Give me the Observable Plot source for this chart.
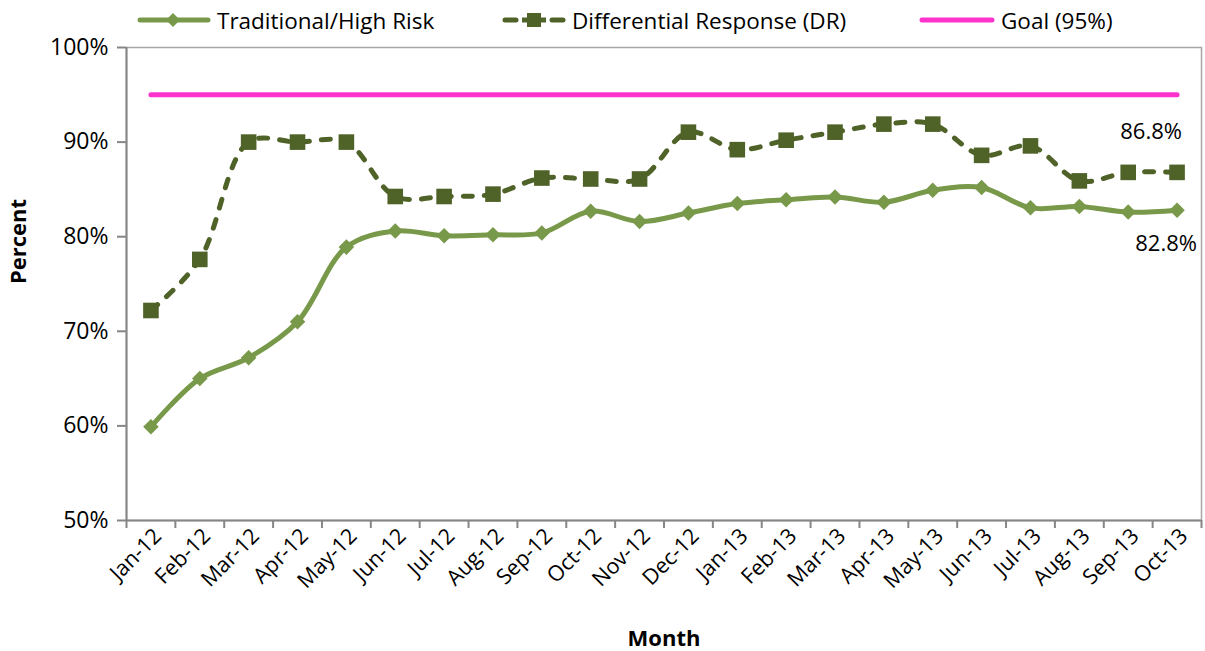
<!DOCTYPE html>
<html>
<head>
<meta charset="utf-8">
<script src="https://cdn.jsdelivr.net/npm/d3@7"></script>
<script src="https://cdn.jsdelivr.net/npm/@observablehq/plot@0.6"></script>
<style>
  html, body { margin: 0; padding: 0; background: #fff; }
  body { width: 1205px; height: 651px; overflow: hidden; font-family: "Open Sans", sans-serif; }
  #legend { position: relative; height: 26px; font-size: 22.5px; color: #000; z-index: 2; }
  #legend .item { position: absolute; top: 2px; height: 36px; display: flex; align-items: center; }
  #legend svg { display: block; }
  #legend span { margin-left: 5px; white-space: nowrap; }
</style>
</head>
<body>
<div id="legend"></div>
<div id="chart"></div>
<script>
const months = ["Jan-12","Feb-12","Mar-12","Apr-12","May-12","Jun-12","Jul-12","Aug-12","Sep-12","Oct-12","Nov-12","Dec-12",
                "Jan-13","Feb-13","Mar-13","Apr-13","May-13","Jun-13","Jul-13","Aug-13","Sep-13","Oct-13"];
const traditional = [59.9,65.0,67.2,71.0,78.9,80.6,80.1,80.2,80.4,82.7,81.6,82.5,83.5,83.9,84.2,83.65,84.9,85.2,83.05,83.2,82.6,82.8];
const dr = [72.2,77.6,90.0,90.0,90.0,84.25,84.25,84.5,86.2,86.1,86.1,91.05,89.2,90.2,91.05,91.9,91.9,88.6,89.6,85.9,86.8,86.8];
const goal = 95;
const yTicks = [50,60,70,80,90,100];
const seriesNames = ["Traditional/High Risk","Differential Response (DR)","Goal (95%)"];
const labelTrad = 82.8, labelDR = 86.8;

const cTrad = "#79994a", cDR = "#4f6228", cGoal = "#ff33cc";

const idx = months.map((_, i) => i);
const tradData = idx.map(i => ({i, v: traditional[i]}));
const drData = idx.map(i => ({i, v: dr[i]}));
const goalData = [{i: 0, v: goal}, {i: months.length - 1, v: goal}];
const boundaries = d3.range(-0.5, months.length, 1);

// Legend
const legend = document.getElementById("legend");
const legendItems = [
  {name: seriesNames[0], left: 136, svg: `<svg width="76" height="20"><line x1="4" y1="10" x2="72" y2="10" stroke="${cTrad}" stroke-width="5" stroke-linecap="round"/><path d="M37,3 L44,10 L37,17 L30,10Z" fill="${cTrad}"/></svg>`},
  {name: seriesNames[1], left: 501, svg: `<svg width="66" height="20"><line x1="4" y1="10" x2="15" y2="10" stroke="${cDR}" stroke-width="5" stroke-linecap="round"/><line x1="51" y1="10" x2="62" y2="10" stroke="${cDR}" stroke-width="5" stroke-linecap="round"/><line x1="21" y1="10" x2="45" y2="10" stroke="${cDR}" stroke-width="5"/><rect x="26" y="3" width="14" height="14" fill="${cDR}"/></svg>`},
  {name: seriesNames[2], left: 918, svg: `<svg width="78" height="20"><line x1="4" y1="10" x2="74" y2="10" stroke="${cGoal}" stroke-width="5" stroke-linecap="round"/></svg>`}
];
for (const it of legendItems) {
  const d = document.createElement("div");
  d.className = "item";
  d.style.left = it.left + "px";
  d.innerHTML = it.svg + `<span>${it.name}</span>`;
  legend.appendChild(d);
}

const chart = Plot.plot({
  width: 1205,
  height: 625,
  marginTop: 21,
  marginBottom: 131,
  marginLeft: 126,
  marginRight: 4,
  style: {fontFamily: "Open Sans, sans-serif", fontSize: "22px", color: "#000", background: "#fff", overflow: "visible"},
  x: {type: "linear", domain: [-0.5, months.length - 0.5]},
  y: {type: "linear", domain: [50, 100]},
  marks: [
    Plot.frame({stroke: "#a6a6a6", strokeWidth: 1.5}),
    // boundary ticks on x axis
    Plot.axisX({ticks: boundaries, tickFormat: () => "", tickSize: 8, stroke: "#868686", strokeWidth: 2, label: null}),
    // category labels
    Plot.axisX({ticks: idx, tickFormat: i => months[i], tickSize: 0, tickPadding: 12, tickRotate: -45, fontSize: 21.5, dx: 7, label: null}),
    Plot.axisY({ticks: yTicks, tickFormat: d => d + "%", tickSize: 9, tickPadding: 9, stroke: "#868686", strokeWidth: 2, fontSize: 23, label: null}),
    Plot.ruleX([-0.5], {stroke: "#868686", strokeWidth: 2}),
    Plot.ruleY([50], {stroke: "#868686", strokeWidth: 2}),
    // goal
    Plot.line(goalData, {x: "i", y: "v", stroke: cGoal, strokeWidth: 5, strokeLinecap: "round"}),
    // DR
    Plot.line(drData, {x: "i", y: "v", stroke: cDR, strokeWidth: 5, curve: "catmull-rom", strokeDasharray: "9,12", strokeLinecap: "round"}),
    Plot.dot(drData, {x: "i", y: "v", symbol: "square", r: 8.8, fill: cDR, stroke: "none"}),
    // Traditional
    Plot.line(tradData, {x: "i", y: "v", stroke: cTrad, strokeWidth: 5, curve: "catmull-rom", strokeLinecap: "round"}),
    Plot.dot(tradData, {x: "i", y: "v", symbol: "diamond2", r: 7, fill: cTrad, stroke: "none"}),
    // data labels
    Plot.text([{i: months.length - 1, v: labelDR}], {x: "i", y: "v", text: d => d.v.toFixed(1) + "%", dx: -26, dy: -40, fontSize: 22, fill: "#000"}),
    Plot.text([{i: months.length - 1, v: labelTrad}], {x: "i", y: "v", text: d => d.v.toFixed(1) + "%", dx: -11, dy: 34, fontSize: 22, fill: "#000"}),
    // axis titles
    Plot.text(["Percent"], {frameAnchor: "left", dx: -108, rotate: -90, fontWeight: "bold", fontSize: 22, fill: "#000"}),
    Plot.text(["Month"], {frameAnchor: "bottom", dy: 125, fontWeight: "bold", fontSize: 22, fill: "#000"})
  ]
});
document.getElementById("chart").appendChild(chart);
</script>
</body>
</html>
